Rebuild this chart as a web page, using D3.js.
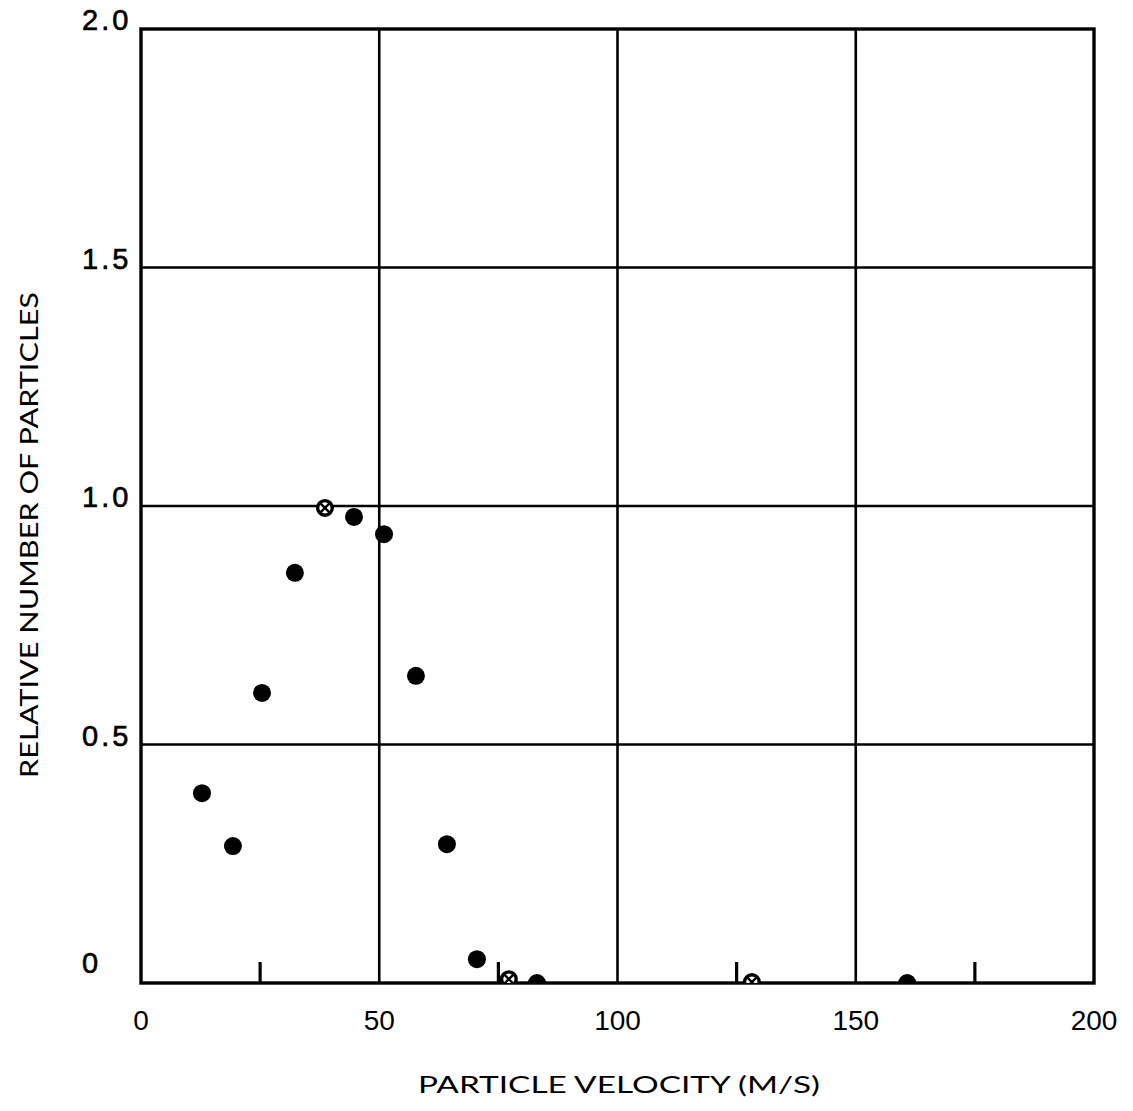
<!DOCTYPE html>
<html>
<head>
<meta charset="utf-8">
<script src="https://cdn.jsdelivr.net/npm/d3@7"></script>
<style>
  html, body { margin: 0; padding: 0; background: #fff; }
  svg { display: block; }
</style>
</head>
<body>
<svg id="chart" width="1133" height="1111"></svg>
<script>
// ---- data ----
const velocity = [12.8, 19.3, 25.4, 32.3, 38.6, 44.7, 51.0, 57.7, 64.2, 70.5, 77.2, 83.1, 128.2, 160.8];
const relNumber = [0.398, 0.287, 0.608, 0.860, 0.996, 0.977, 0.941, 0.644, 0.291, 0.050, 0.008, 0.0, 0.002, 0.0];
const markerType = ["filled","filled","filled","filled","open","filled","filled","filled","filled","filled","open","filled","open","filled"];
const xTicks = [0, 50, 100, 150, 200];
const xMinorTicks = [25, 75, 125, 175];
const yTicks = [0, 0.5, 1.0, 1.5, 2.0];
const yTickLabels = ["0", "0.5", "1.0", "1.5", "2.0"];
const xTitle = "PARTICLE VELOCITY (M/S)";
const yTitle = "RELATIVE NUMBER OF PARTICLES";

(function () {
// ---- layout ----
const svg = d3.select("#chart");
const pLeft = 141, pRight = 1094, pTop = 29, pBottom = 983;
const x = d3.scaleLinear().domain([0, 200]).range([pLeft, pRight]);
const y = d3.scaleLinear().domain([0, 2]).range([pBottom, pTop]);

const numFont = "'Liberation Sans', Arial, sans-serif";
const titleFont = "Lato, 'Open Sans', sans-serif";

// grid lines
svg.append("g").selectAll("line").data(xTicks.slice(1, -1)).join("line")
  .attr("x1", d => x(d)).attr("x2", d => x(d))
  .attr("y1", pTop).attr("y2", pBottom)
  .attr("stroke", "#000").attr("stroke-width", 2.6);
svg.append("g").selectAll("line").data(yTicks.slice(1, -1)).join("line")
  .attr("x1", pLeft).attr("x2", pRight)
  .attr("y1", d => y(d)).attr("y2", d => y(d))
  .attr("stroke", "#000").attr("stroke-width", 2.6);

// minor ticks on the bottom axis (pointing up)
svg.append("g").selectAll("line").data(xMinorTicks).join("line")
  .attr("x1", d => x(d)).attr("x2", d => x(d))
  .attr("y1", pBottom).attr("y2", pBottom - 21)
  .attr("stroke", "#000").attr("stroke-width", 3.2);

// frame
svg.append("rect")
  .attr("x", pLeft).attr("y", pTop)
  .attr("width", pRight - pLeft).attr("height", pBottom - pTop)
  .attr("fill", "none").attr("stroke", "#000").attr("stroke-width", 3.4);

// clip path for markers
svg.append("clipPath").attr("id", "plotclip")
  .append("rect").attr("x", pLeft).attr("y", pTop - 10)
  .attr("width", pRight - pLeft).attr("height", pBottom - pTop + 10);

const pts = velocity.map((v, i) => ({ v, r: relNumber[i], t: markerType[i] }));
const mg = svg.append("g").attr("clip-path", "url(#plotclip)");
const R = 9;
mg.selectAll("circle").data(pts.filter(d => d.t === "filled")).join("circle")
  .attr("cx", d => x(d.v)).attr("cy", d => y(d.r)).attr("r", R)
  .attr("fill", "#000");
const og = mg.selectAll("g").data(pts.filter(d => d.t === "open")).join("g")
  .attr("transform", d => `translate(${x(d.v)},${y(d.r)})`);
og.append("circle").attr("r", R - 1.7).attr("fill", "#fff")
  .attr("stroke", "#000").attr("stroke-width", 3.4);
og.append("path").attr("d", "M-4.5,-4.5L4.5,4.5M-4.5,4.5L4.5,-4.5")
  .attr("stroke", "#000").attr("stroke-width", 2.4);

// y tick labels
svg.append("g").selectAll("text").data(yTicks).join("text")
  .attr("x", 82)
  .attr("y", d => d === 0 ? y(d) - 10 : y(d) + 1)
  .attr("font-family", numFont).attr("font-size", 29)
  .attr("letter-spacing", d => d === 0 ? 0 : 3)
  .attr("fill", "#000").attr("stroke", "#000").attr("stroke-width", 0.6)
  .text((d, i) => yTickLabels[i]);

// x tick labels
svg.append("g").selectAll("text").data(xTicks).join("text")
  .attr("x", d => x(d)).attr("y", 1030)
  .attr("text-anchor", "middle")
  .attr("font-family", numFont).attr("font-size", 28)
  .attr("fill", "#000")
  .text(d => d);

// axis titles
svg.append("text")
  .attr("x", 619).attr("y", 1093)
  .attr("text-anchor", "middle")
  .attr("font-family", titleFont).attr("font-size", 24)
  .attr("textLength", 402).attr("lengthAdjust", "spacingAndGlyphs")
  .attr("fill", "#000")
  .text(xTitle);

svg.append("text")
  .attr("transform", "translate(38,535) rotate(-90)")
  .attr("text-anchor", "middle")
  .attr("font-family", titleFont).attr("font-size", 25)
  .attr("textLength", 486).attr("lengthAdjust", "spacingAndGlyphs")
  .attr("fill", "#000")
  .text(yTitle);
})();
</script>
</body>
</html>
